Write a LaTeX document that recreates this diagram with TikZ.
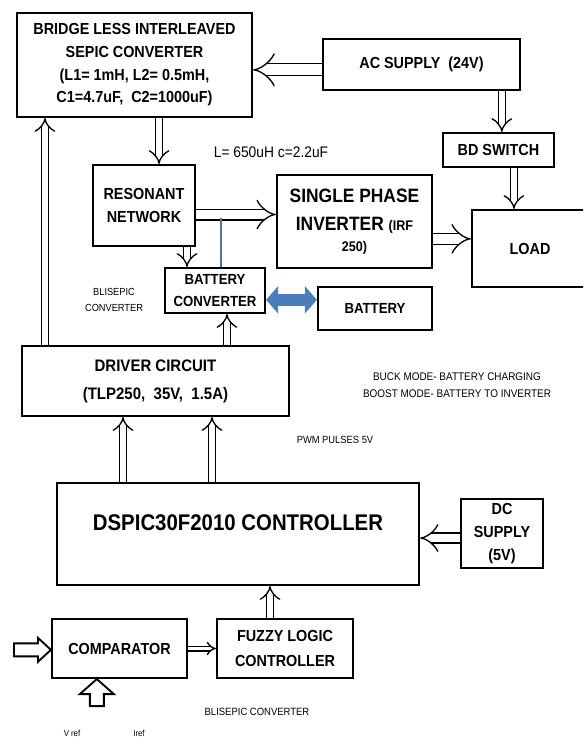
\documentclass[tikz,border=0pt]{standalone}
\usepackage{fontspec}
\usepackage{tikz,xcolor}
\usetikzlibrary{arrows.meta}
\newfontfamily\boxfont{Liberation Sans}[FakeStretch=0.9]
\definecolor{linkblue}{RGB}{74,126,187}
\definecolor{wireblue}{RGB}{84,112,158}

\begin{document}
\begin{tikzpicture}[x=0.75pt,y=-0.75pt,
        block/.style={draw, line width=1.6pt, fill=white, inner sep=0pt, align=center,
            font=\boxfont\bfseries\fontsize{12}{17}\selectfont},
        darrow/.style={draw, double, double distance=#1, line width=1pt, -{Implies}},
        darrow/.default=4.5pt,
        hollow/.style={draw, line width=1.4pt, fill=white, line join=miter},
        note/.style={align=center, inner sep=0pt, font=\boxfont\fontsize{8}{12}\selectfont}]

        % Page
        \useasboundingbox (0,0) rectangle (583,738);
        \clip (0,0) rectangle (583,738);
        \fill[white] (0,0) rectangle (583,738);

        % Power stage
        \node[block, minimum width=176.25pt, minimum height=78pt] (blsepic) at (134.5,65)
            {BRIDGE LESS INTERLEAVED\\SEPIC CONVERTER\\(L1= 1mH, L2= 0.5mH,\\C1=4.7uF,~~C2=1000uF)};
        \node[block, minimum width=147.75pt, minimum height=38.25pt] (acsupply) at (421.5,64.5) {AC SUPPLY~~(24V)};
        \node[block, minimum width=83.25pt, minimum height=25.5pt] (bdswitch) at (498.5,150) {BD SWITCH};
        \node[block, minimum width=87pt, minimum height=57.75pt] (load) at (530,248.5) {LOAD};
        \node[block, minimum width=76.5pt, minimum height=60.75pt] (resonant) at (144,205.5) {RESONANT\\NETWORK};
        \node[block, minimum width=116.25pt, minimum height=69.75pt,
            font=\boxfont\bfseries\fontsize{14.5}{21}\selectfont] (inverter) at (354.5,221.5)
            {SINGLE PHASE\\INVERTER {\fontsize{10.5}{14}\selectfont(IRF}\\[-5pt]{\fontsize{10.5}{14}\selectfont 250)}};
        \node[block, minimum width=75pt, minimum height=33.75pt,
            font=\boxfont\bfseries\fontsize{11}{16.5}\selectfont] (battconv) at (215,290.5) {BATTERY\\CONVERTER};
        \node[block, minimum width=85.5pt, minimum height=32.25pt,
            font=\boxfont\bfseries\fontsize{11}{16}\selectfont] (battery) at (375,308.5) {BATTERY};

        % Control stage
        \node[block, minimum width=200.25pt, minimum height=52.5pt,
            font=\boxfont\bfseries\fontsize{12.5}{21}\selectfont] (driver) at (155.5,381)
            {DRIVER CIRCUIT\\(TLP250,~~35V,~~1.5A)};
        \node[block, minimum width=271.5pt, minimum height=76.5pt, text depth=16.5pt,
            font=\boxfont\bfseries\fontsize{17}{20}\selectfont] (dspic) at (238,534) {DSPIC30F2010 CONTROLLER};
        \node[block, minimum width=61.5pt, minimum height=51.75pt] (dcsupply) at (502,533.5) {DC\\SUPPLY\\(5V)};
        \node[block, minimum width=101.25pt, minimum height=44.25pt] (comparator) at (119.5,648.5) {COMPARATOR};
        \node[block, minimum width=102pt, minimum height=44.25pt,
            font=\boxfont\bfseries\fontsize{12}{19}\selectfont] (fuzzy) at (285,648.5) {FUZZY LOGIC\\CONTROLLER};

        % Notes
        \node[note, font=\boxfont\fontsize{11.5}{14}\selectfont] (lclabel) at (271,152) {L= 650uH c=2.2uF};
        \node[note, font=\boxfont\fontsize{7.7}{12}\selectfont] (bllabel) at (114,300) {BLISEPIC\\CONVERTER};
        \node[note, font=\boxfont\fontsize{8.3}{12.75}\selectfont] (modelabel) at (457,385)
            {BUCK MODE- BATTERY CHARGING\\BOOST MODE- BATTERY TO INVERTER};
        \node[note, font=\boxfont\fontsize{7.8}{12}\selectfont] (pwmlabel) at (335,440) {PWM PULSES 5V};
        \node[note, font=\boxfont\fontsize{7.9}{12}\selectfont] (bottomlabel) at (257,712) {BLISEPIC CONVERTER};
        \node[note, font=\boxfont\fontsize{6.5}{8}\selectfont] (vref) at (72,733) {V ref};
        \node[note, font=\boxfont\fontsize{6.5}{8}\selectfont] (iref) at (139,733) {Iref};

        % Power arrows
        \draw[darrow=8pt] ([yshift=-4pt]acsupply.west) -- ([yshift=-4pt]acsupply.west -| blsepic.east);
        \draw[darrow] ([xshift=2.5pt]bdswitch.north |- acsupply.south) -- ([xshift=2.5pt]bdswitch.north);
        \draw[darrow] ([xshift=11.6pt]bdswitch.south) -- ([xshift=11.6pt]bdswitch.south |- load.north);
        \draw[darrow] ([xshift=18.4pt]blsepic.south) -- ([xshift=18.4pt]blsepic.south |- resonant.north);
        \draw[darrow=7pt] ([yshift=-6.75pt]resonant.east) -- ([yshift=-6.75pt]resonant.east -| inverter.west);
        \draw[darrow=7pt] ([yshift=-13pt]inverter.east) -- ([yshift=-13pt]inverter.east -| load.west);
        \draw[darrow] ([xshift=32.25pt]resonant.south) -- ([xshift=32.25pt]resonant.south |- battconv.north);

        % Battery link
        \coordinate (tap) at (221,218);
        \draw[wireblue, line width=2.2pt] (tap) -- (tap |- battconv.north);
        \draw[linkblue, line width=9pt, {Triangle[length=9pt,width=20pt]}-{Triangle[length=9pt,width=20pt]}]
            ([yshift=-7pt]battconv.east) -- ([yshift=-7pt]battconv.east -| battery.west);

        % Control arrows
        \draw[darrow] ([xshift=-82.9pt]driver.north) -- ([xshift=-82.9pt]driver.north |- blsepic.south);
        \draw[darrow] ([xshift=53.6pt]driver.north) -- ([xshift=53.6pt]driver.north |- battconv.south);
        \draw[darrow] ([xshift=-86.25pt]dspic.north) -- ([xshift=-86.25pt]dspic.north |- driver.south);
        \draw[darrow] ([xshift=-19.5pt]dspic.north) -- ([xshift=-19.5pt]dspic.north |- driver.south);
        \draw[darrow=6.5pt] ([yshift=-3.4pt]dcsupply.west) -- ([yshift=-3.4pt]dcsupply.west -| dspic.east);
        \draw[darrow] ([xshift=-11.25pt]fuzzy.north) -- ([xshift=-11.25pt]fuzzy.north |- dspic.south);
        \draw[darrow=2.5pt] (comparator.east) -- (comparator.east -| fuzzy.west);

        % Reference inputs
        \coordinate (vtip) at ([yshift=-1pt]comparator.west);
        \draw[hollow] (vtip) -- ++(-13,-12) -- ++(0,5.5) -- ++(-24,0) -- ++(0,13)
            -- ++(24,0) -- ++(0,5.5) -- cycle;
        \coordinate (rtip) at ([xshift=-17pt]comparator.south);
        \draw[hollow] (rtip) -- ++(17,15) -- ++(-10,0) -- ++(0,12) -- ++(-14,0)
            -- ++(0,-12) -- ++(-10,0) -- cycle;

\end{tikzpicture}
\end{document}
